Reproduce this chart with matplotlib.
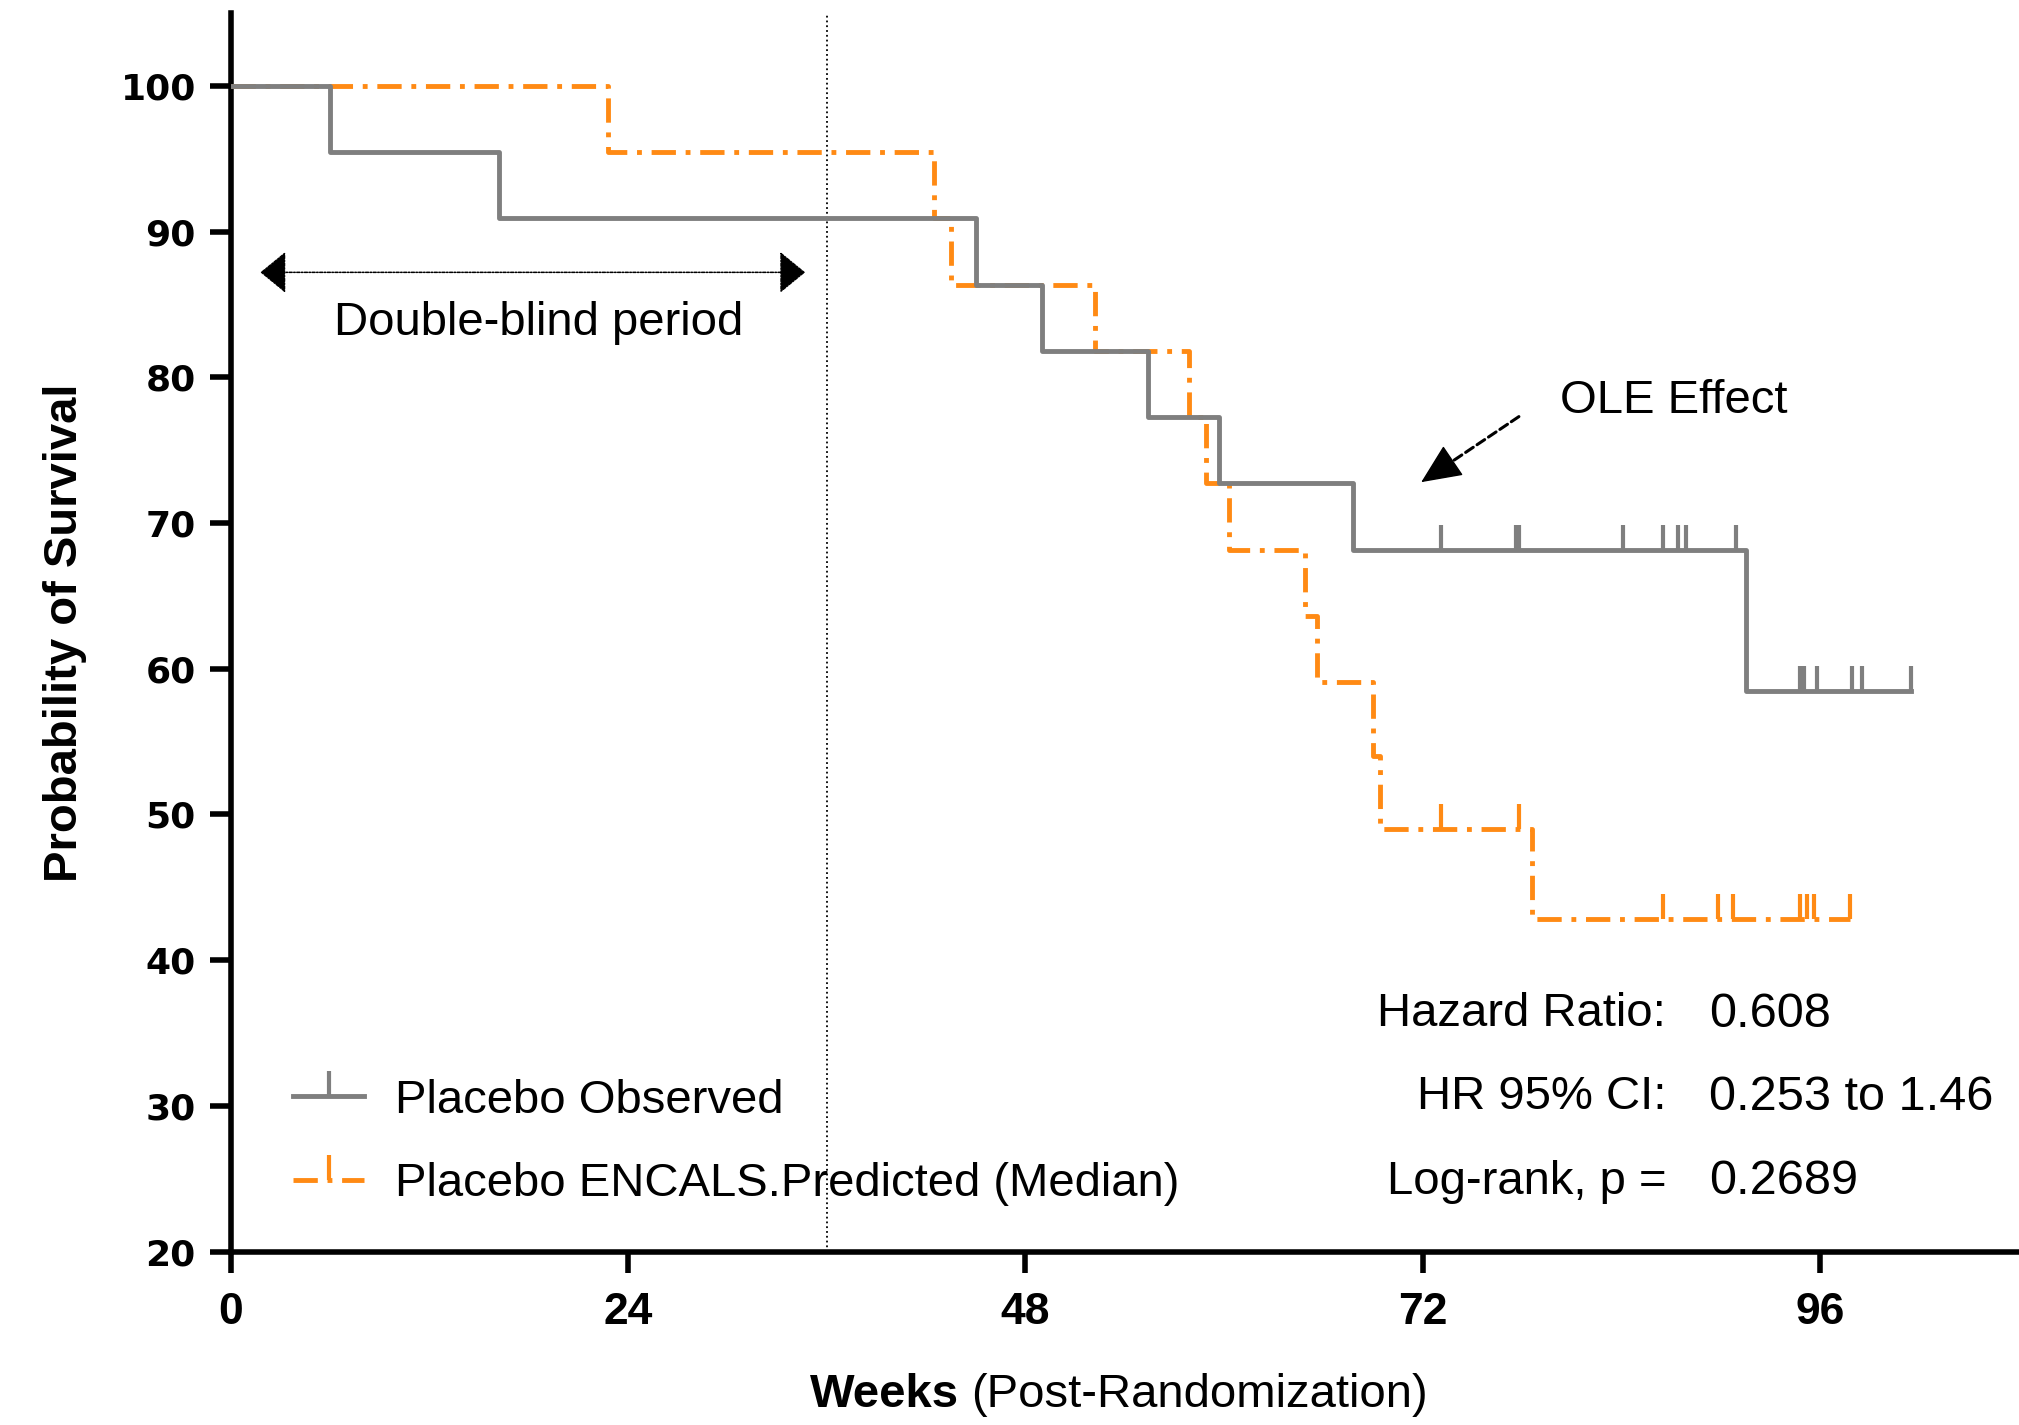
import numpy as np
import matplotlib.pyplot as plt
from matplotlib.lines import Line2D

plt.rcParams['font.family'] = ['Liberation Sans', 'DejaVu Sans']

# Placebo observed (Kaplan-Meier), weeks / % surviving
obs_time = [0, 6.0, 16.2, 45.0, 49.0, 55.4, 59.7, 67.8, 91.5]
obs_surv = [100, 95.45, 90.91, 86.36, 81.82, 77.27, 72.73, 68.18, 58.44]
obs_end = 101.5
obs_censor = [73.1, 77.6, 77.8, 84.1, 86.5, 87.4, 87.9, 90.9,
              94.8, 95.0, 95.8, 97.9, 98.5, 101.5]

# Placebo ENCALS predicted (median)
pred_time = [0, 22.8, 42.5, 43.5, 52.2, 57.9, 58.9, 60.3, 64.9, 65.6, 69.0, 69.4, 78.6]
pred_surv = [100, 95.45, 90.91, 86.36, 81.82, 77.27, 72.73, 68.18, 63.64, 59.09, 54.0, 49.0, 42.84]
pred_end = 97.8
pred_censor = [73.1, 77.8, 86.5, 89.8, 90.7, 94.8, 95.2, 95.6, 97.8]

x_ticks = [0, 24, 48, 72, 96]
y_ticks = [20, 30, 40, 50, 60, 70, 80, 90, 100]

stat_labels = ['Hazard Ratio:', 'HR 95% CI:', 'Log-rank, p =']
stat_values = ['0.608', '0.253 to 1.46', '0.2689']

gray = '#7f7f7f'
orange = '#FF8A14'
dashdot = (0, (5, 2, 1, 2))
lw = 3.5


def surv_at(times, surv, t):
    idx = np.searchsorted(times, t, side='right') - 1
    return np.array(surv)[idx]


fig = plt.figure(figsize=(20.19, 14.25), dpi=100)
ax = fig.add_axes([0.1142, 0.1217, 0.8858, 0.8692])

# orange first, gray on top
ax.step(pred_time + [pred_end], pred_surv + [pred_surv[-1]], where='post',
        color=orange, lw=lw, ls=dashdot, zorder=3)
ax.plot(pred_censor, surv_at(pred_time, pred_surv, pred_censor), ls='none',
        marker=2, ms=18, mew=3, color=orange, zorder=3)

ax.step(obs_time + [obs_end], obs_surv + [obs_surv[-1]], where='post',
        color=gray, lw=lw, zorder=4)
ax.plot(obs_censor, surv_at(obs_time, obs_surv, obs_censor), ls='none',
        marker=2, ms=18, mew=3, color=gray, zorder=4)

# end of double-blind period
ax.axvline(36, color='k', ls=':', lw=1.3, zorder=2)

ax.annotate('', xy=(1.8, 87.2), xytext=(34.7, 87.2),
            arrowprops=dict(arrowstyle='<|-|>,head_length=0.55,head_width=0.45',
                            mutation_scale=30, color='k', lw=1.1,
                            ls=(0, (2, 1, 1, 1)), shrinkA=0, shrinkB=0))
ax.text(18.6, 83.7, 'Double-blind period', fontsize=34, ha='center', va='center')

# OLE arrow: dashed shaft + solid head
ax.annotate('', xy=(72.3, 73.1), xytext=(77.8, 77.3),
            arrowprops=dict(arrowstyle='-', color='k', lw=2.2, ls=(0, (3, 1.5)),
                            shrinkA=0, shrinkB=0))
ax.annotate('', xy=(71.9, 72.8), xytext=(73.2, 73.8),
            arrowprops=dict(arrowstyle='-|>,head_length=1.0,head_width=0.45',
                            mutation_scale=26, color='k', lw=1,
                            shrinkA=0, shrinkB=0))
ax.text(80.3, 78.4, 'OLE Effect', fontsize=34, ha='left', va='center')

for lab, val, y in zip(stat_labels, stat_values, [36.3, 30.6, 24.8]):
    ax.text(86.7, y, lab, fontsize=34, ha='right', va='center')
    ax.text(89.3, y, val, fontsize=35, ha='left', va='center')

handles = [Line2D([], [], color=gray, lw=lw, marker=2, ms=18, mew=3),
           Line2D([], [], color=orange, lw=lw, ls=dashdot, marker=2, ms=18, mew=3)]
ax.legend(handles, ['Placebo Observed', 'Placebo ENCALS.Predicted (Median)'],
          loc='center left', bbox_to_anchor=(0.035, 0.088), frameon=False,
          fontsize=34, handlelength=1.5, handletextpad=0.65, labelspacing=0.83,
          borderpad=0, borderaxespad=0)

ax.set_xlim(0, 108)
ax.set_ylim(20, 105)
ax.set_xticks(x_ticks)
ax.set_yticks(y_ticks)
for s in ['top', 'right']:
    ax.spines[s].set_visible(False)
for s in ['left', 'bottom']:
    ax.spines[s].set_linewidth(4)
ax.tick_params(width=4, length=15, direction='out')
ax.tick_params(axis='y', pad=10)
ax.tick_params(axis='x', pad=14)
for t in ax.get_yticklabels():
    t.set_fontfamily('DejaVu Sans')
    t.set_fontweight('heavy')
    t.set_fontsize(26)
for t in ax.get_xticklabels():
    t.set_fontweight('bold')
    t.set_fontsize(32)

ax.set_ylabel('Probability of Survival', fontsize=34, fontweight='bold', labelpad=24)
fig.text(0.475, 0.021, 'Weeks', fontsize=34, fontweight='bold', ha='right', va='center')
fig.text(0.481, 0.021, '(Post-Randomization)', fontsize=34, ha='left', va='center')

plt.savefig('out.png', dpi=100)
